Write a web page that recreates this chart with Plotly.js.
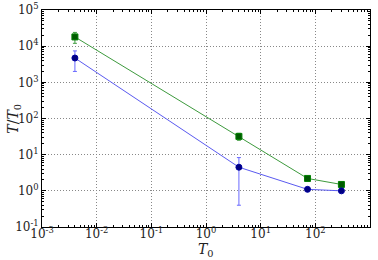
<!DOCTYPE html>
<html>
<head>
<meta charset="utf-8">
<script src="https://cdn.plot.ly/plotly-3.0.1.min.js"></script>
<style>
  html, body { margin: 0; padding: 0; background: #fff; }
  #chart { width: 378px; height: 260px; }
</style>
</head>
<body>
<div id="chart"></div>
<script>
// Initial temperature T0 (shared by both series)
var t0 = [0.004, 4.0, 72, 300];

// Upper series (green squares): T/T0 with symmetric spread
var upperRatio = [18000, 32, 2.2, 1.5];
var upperErr   = [6000, 7, 0.3, 0.2];

// Lower series (blue circles): T/T0 with spread (above / below)
var lowerRatio    = [4700, 4.5, 1.1, 1.0];
var lowerErrPlus  = [2700, 3.8, 0.05, 0.04];
var lowerErrMinus = [2700, 4.1, 0.05, 0.04];

// Decade exponents labelled on each axis
var xExponents = [-3, -2, -1, 0, 1, 2, 3];
var yExponents = [-1, 0, 1, 2, 3, 4, 5];

var xTitle = '<i>T</i><sub>0</sub>';
var yTitle = '<i>T</i>/<i>T</i><sub>0</sub>';

var serif = 'DejaVu Serif, Liberation Serif, serif';

function decadeVals(exps) { return exps.map(function (e) { return Math.pow(10, e); }); }
function decadeText(exps) { return exps.map(function (e) { return '10<sup>' + (e < 0 ? '-' : '') + Math.abs(e) + '</sup>'; }); }
function minorVals(exps) {
  var v = [];
  for (var i = 0; i < exps.length - 1; i++) {
    for (var d = 2; d <= 9; d++) v.push(d * Math.pow(10, exps[i]));
  }
  return v;
}

var traces = [
  {
    x: t0, y: upperRatio, type: 'scatter', mode: 'lines+markers',
    line: { color: '#3d9a3d', width: 1 },
    marker: { symbol: 'square', size: 6, color: '#005a00', line: { color: '#008000', width: 1 } },
    error_y: { type: 'data', array: upperErr, visible: true, color: '#3d9a3d', thickness: 1, width: 2 },
    showlegend: false, cliponaxis: false
  },
  {
    x: t0, y: lowerRatio, type: 'scatter', mode: 'lines+markers',
    line: { color: '#5a5af0', width: 1 },
    marker: { symbol: 'circle', size: 6, color: '#000080', line: { color: '#0000a0', width: 1 } },
    error_y: { type: 'data', symmetric: false, array: lowerErrPlus, arrayminus: lowerErrMinus,
               visible: true, color: '#6a6aff', thickness: 1, width: 2 },
    showlegend: false, cliponaxis: false
  }
];

function makeAxis(exps, labelShift) {
  return {
    type: 'log',
    range: [exps[0], exps[exps.length - 1]],
    tickmode: 'array',
    tickvals: decadeVals(exps),
    ticktext: decadeText(exps),
    ticklabelstandoff: labelShift,
    showline: true, linecolor: '#000', linewidth: 1, mirror: 'allticks',
    ticks: 'inside', ticklen: 4, tickcolor: '#000', tickwidth: 1,
    showgrid: true, gridcolor: '#888', griddash: '1px,2px', gridwidth: 1,
    zeroline: false,
    tickfont: { family: serif, size: 12, color: '#222' },
    minor: { tickmode: 'array', tickvals: minorVals(exps), ticks: 'inside', ticklen: 2,
             tickcolor: '#000', tickwidth: 1, showgrid: false }
  };
}

var titleFont = { family: serif, size: 14, color: '#222' };

var layout = {
  width: 378, height: 260,
  margin: { l: 42, r: 8, t: 10, b: 33, autoexpand: false },
  paper_bgcolor: '#fff', plot_bgcolor: '#fff',
  xaxis: makeAxis(xExponents, -4),
  yaxis: makeAxis(yExponents, 0),
  annotations: [
    { text: xTitle, xref: 'paper', yref: 'paper', x: 0.5, y: -0.152, borderpad: 0,
      xanchor: 'center', yanchor: 'bottom', showarrow: false, font: titleFont },
    { text: yTitle, xref: 'paper', yref: 'paper', x: -0.088, y: 0.5, textangle: -90,
      xanchor: 'center', yanchor: 'middle', showarrow: false, font: titleFont }
  ]
};

Plotly.newPlot('chart', traces, layout, { displayModeBar: false, staticPlot: true });
</script>
</body>
</html>
